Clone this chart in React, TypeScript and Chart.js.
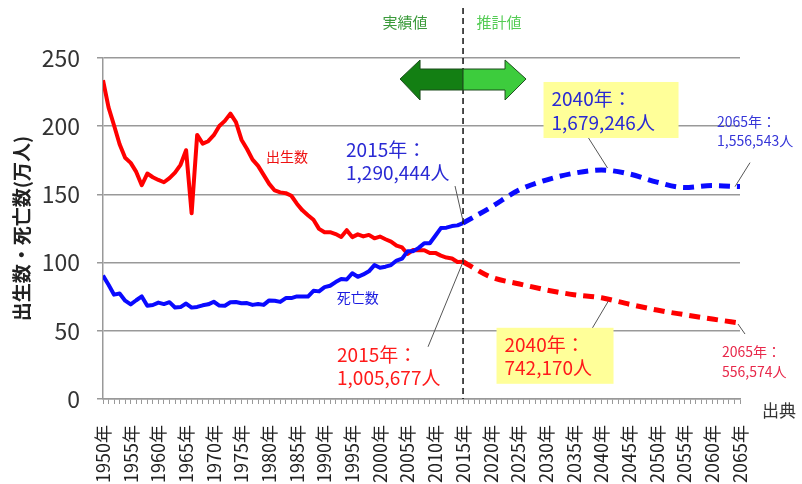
import React, { useEffect, useRef } from 'react';
import { Chart, registerables } from 'chart.js';

Chart.register(...registerables);

// ---------- data (万人) ----------
const actualStartYear = 1950;
const birthsActual = [
  233.7, 213.8, 200.5, 186.8, 176.9, 173.1, 166.5, 156.7, 165.3, 162.6,
  160.6, 158.9, 161.9, 166.0, 171.7, 182.4, 136.1, 193.6, 187.2, 189.0,
  193.4, 200.1, 203.9, 209.2, 203.0, 190.1, 183.3, 175.5, 170.9, 164.3,
  157.7, 152.9, 151.5, 150.9, 149.0, 143.2, 138.3, 134.7, 131.4, 124.7,
  122.2, 122.3, 120.9, 118.8, 123.8, 118.7, 120.7, 119.2, 120.3, 117.8,
  119.1, 117.1, 115.4, 112.4, 111.1, 106.3, 109.3, 109.0, 109.1, 107.0,
  107.1, 105.1, 103.7, 103.0, 100.4, 100.6,
];
const deathsActual = [
  90.5, 83.8, 76.5, 77.3, 72.1, 69.4, 72.4, 75.2, 68.4, 68.9,
  70.7, 69.6, 71.0, 67.1, 67.4, 70.0, 67.0, 67.5, 68.7, 69.4,
  71.3, 68.5, 68.4, 70.9, 71.1, 70.2, 70.3, 69.0, 69.6, 69.0,
  72.3, 72.0, 71.2, 74.0, 74.0, 75.2, 75.1, 75.1, 79.3, 78.9,
  82.0, 83.0, 85.7, 87.9, 87.6, 92.2, 89.6, 91.3, 93.6, 98.2,
  96.2, 97.0, 98.2, 101.5, 102.9, 108.4, 108.4, 110.8, 114.2, 114.2,
  119.7, 125.3, 125.6, 126.8, 127.3, 129.0,
];
const projYears = [2015, 2020, 2025, 2030, 2035, 2040, 2045, 2050, 2055, 2060, 2065];
const birthsProj = [100.6, 89.5, 84.5, 80.0, 76.5, 74.2, 69.5, 65.2, 61.8, 58.6, 55.7];
const deathsProj = [129.0, 140.5, 153.0, 160.5, 165.5, 167.9, 165.0, 159.0, 155.0, 156.5, 155.7];

const dividerYear = 2015;
const peakYear = 2040;
const endYear = 2065;

const FONT = '"Noto Sans CJK JP", "Noto Sans", sans-serif';

function toPoints(startYear: number, vals: number[]) {
  return vals.map((v, i) => ({ x: startYear + i, y: v }));
}
function zipPoints(years: number[], vals: number[]) {
  return vals.map((v, i) => ({ x: years[i], y: v }));
}

const annotPlugin = {
  id: 'annot',
  afterDatasetsDraw(chart: any) {
    const { ctx, scales, chartArea } = chart;
    const xs = scales.x;
    const ys = scales.y;
    const px = (v: number) => xs.getPixelForValue(v);
    const py = (v: number) => ys.getPixelForValue(v);

    const text = (t: string, x: number, y: number, size: number, color: string, align: CanvasTextAlign = 'left', weight = 'normal', family = FONT) => {
      ctx.font = `${weight} ${size}px ${family}`;
      ctx.fillStyle = color;
      ctx.textAlign = align;
      ctx.textBaseline = 'middle';
      ctx.fillText(t, x, y);
    };
    const line = (x1: number, y1: number, x2: number, y2: number, color = '#555', w = 1) => {
      ctx.strokeStyle = color;
      ctx.lineWidth = w;
      ctx.beginPath();
      ctx.moveTo(x1, y1);
      ctx.lineTo(x2, y2);
      ctx.stroke();
    };

    ctx.save();
    const dx = px(dividerYear);

    // dashed divider
    ctx.setLineDash([6, 4]);
    line(dx, 8, dx, chartArea.bottom, '#111', 1.5);
    ctx.setLineDash([]);

    // double arrow
    const t = chartArea.top;
    const headTop = t + 2, headBot = t + 42, bodyTop = t + 11, bodyBot = t + 32, mid = t + 21;
    ctx.lineWidth = 1;
    ctx.strokeStyle = '#1d4d1d';
    ctx.beginPath();
    ctx.moveTo(dx, bodyTop);
    ctx.lineTo(dx - 43, bodyTop);
    ctx.lineTo(dx - 43, headTop);
    ctx.lineTo(dx - 63, mid);
    ctx.lineTo(dx - 43, headBot);
    ctx.lineTo(dx - 43, bodyBot);
    ctx.lineTo(dx, bodyBot);
    ctx.closePath();
    ctx.fillStyle = '#137f13';
    ctx.fill();
    ctx.stroke();
    ctx.beginPath();
    ctx.moveTo(dx, bodyTop);
    ctx.lineTo(dx + 42, bodyTop);
    ctx.lineTo(dx + 42, headTop);
    ctx.lineTo(dx + 63, mid);
    ctx.lineTo(dx + 42, headBot);
    ctx.lineTo(dx + 42, bodyBot);
    ctx.lineTo(dx, bodyBot);
    ctx.closePath();
    ctx.fillStyle = '#3dcc3d';
    ctx.fill();
    ctx.stroke();

    text('実績値', dx - 58, 22, 15, '#3a9a3a', 'center');
    text('推計値', dx + 36, 22, 15, '#55cc55', 'center');

    // series labels
    text('出生数', px(1983.2), py(177.4), 14, '#ee1111', 'center');
    text('死亡数', px(1996.0), py(74.0), 14, '#1a1ae0', 'center');

    const blue = '#2a2ad4';
    const red = '#ff1a1a';

    // 2015 deaths
    const b15x = dx, b15y = py(deathsProj[0]);
    line(b15x - 8, b15y - 37, b15x, b15y - 2);
    text('2015年：', b15x - 117, b15y - 73, 19, blue);
    text('1,290,444人', b15x - 117, b15y - 50, 19, blue);

    // 2015 births
    const r15x = dx, r15y = py(birthsProj[0]);
    line(r15x - 35, r15y + 85, r15x, r15y);
    text('2015年：', r15x - 126, r15y + 93, 19, red);
    text('1,005,677人', r15x - 126, r15y + 116, 19, red);

    // 2040 deaths
    const b40x = px(peakYear), b40y = py(deathsProj[5]);
    line(b40x - 13, b40y - 32, b40x + 6, b40y - 2);
    ctx.fillStyle = '#ffff99';
    ctx.fillRect(b40x - 58, b40y - 88, 135, 56);
    text('2040年：', b40x - 50, b40y - 71, 19, blue);
    text('1,679,246人', b40x - 50, b40y - 47, 19, blue);

    // 2065 deaths
    const b65x = px(endYear), b65y = py(deathsProj[10]);
    line(b65x + 10, b65y - 24, b65x - 5, b65y);
    text('2065年：', b65x - 23, b65y - 65, 14, '#3636d8');
    text('1,556,543人', b65x - 23, b65y - 46, 14, '#3636d8');

    // 2040 births
    const r40x = px(peakYear), r40y = py(birthsProj[5]);
    ctx.fillStyle = '#ffff99';
    ctx.fillRect(r40x - 105, r40y + 30, 117, 56);
    line(r40x - 9, r40y + 30, r40x + 7, r40y + 3);
    text('2040年：', r40x - 97, r40y + 47, 19, red);
    text('742,170人', r40x - 97, r40y + 70, 19, red);

    // 2065 births
    const r65x = px(endYear), r65y = py(birthsProj[10]);
    line(r65x + 5, r65y + 11, r65x - 2, r65y + 1);
    text('2065年：', r65x - 18, r65y + 29, 14, '#e8284a');
    text('556,574人', r65x - 18, r65y + 49, 14, '#e8284a');

    // source
    text('出典', chartArea.right + 22, chartArea.bottom + 14, 17, '#333', 'left', 'normal', '"DejaVu Serif", "Noto Sans CJK JP", serif');

    ctx.restore();
  },
};

export default function App() {
  const ref = useRef<HTMLCanvasElement | null>(null);

  useEffect(() => {
    if (!ref.current) return;
    const chart = new Chart(ref.current, {
      type: 'line',
      data: {
        datasets: [
          {
            data: toPoints(actualStartYear, deathsActual),
            borderColor: '#0a0aff',
            borderWidth: 4,
            pointRadius: 0,
            tension: 0,
            borderJoinStyle: 'round',
          },
          {
            data: zipPoints(projYears, deathsProj),
            borderColor: '#0a0aff',
            borderWidth: 5,
            borderDash: [11, 7],
            pointRadius: 0,
            cubicInterpolationMode: 'monotone',
          },
          {
            data: toPoints(actualStartYear, birthsActual),
            borderColor: '#ff0000',
            borderWidth: 4,
            pointRadius: 0,
            tension: 0,
            borderJoinStyle: 'round',
          },
          {
            data: zipPoints(projYears, birthsProj),
            borderColor: '#ff0000',
            borderWidth: 5,
            borderDash: [11, 7],
            pointRadius: 0,
            cubicInterpolationMode: 'monotone',
          },
        ],
      },
      options: {
        responsive: false,
        animation: false,
        layout: { padding: { top: 58, right: 62, left: 0, bottom: 0 } },
        plugins: { legend: { display: false }, tooltip: { enabled: false } },
        scales: {
          x: {
            type: 'linear',
            min: 1950,
            max: 2065,
            afterFit: (s: any) => { s.height = 85; },
            grid: { drawOnChartArea: false, drawTicks: true, tickLength: 5, color: '#999', lineWidth: 1 },
            border: { color: '#999', width: 1.5 },
            ticks: {
              stepSize: 1,
              autoSkip: false,
              maxTicksLimit: 200,
              minRotation: 90,
              maxRotation: 90,
              padding: 21,
              color: '#222',
              font: { family: FONT, size: 18 },
              callback: (v: any) => (Number(v) % 5 === 0 ? `${v}年` : ''),
            },
          },
          y: {
            min: 0,
            max: 250,
            afterFit: (s: any) => { s.width = 103; },
            grid: { color: '#999', lineWidth: 1.5, tickLength: 6 },
            border: { color: '#999', width: 1.5 },
            ticks: { stepSize: 50, padding: 17, color: '#333', font: { family: FONT, size: 23 } },
            title: {
              display: true,
              text: '出生数・死亡数(万人)',
              color: '#222',
              font: { family: FONT, size: 19, weight: 'bold' },
              padding: { top: 10, bottom: 0 },
            },
          },
        },
      },
      plugins: [annotPlugin],
    } as any);
    return () => chart.destroy();
  }, []);

  return (
    <div style={{ position: 'fixed', left: 0, top: 0, width: 802, height: 484, background: '#fff' }}>
      <canvas ref={ref} width={802} height={484} />
    </div>
  );
}
